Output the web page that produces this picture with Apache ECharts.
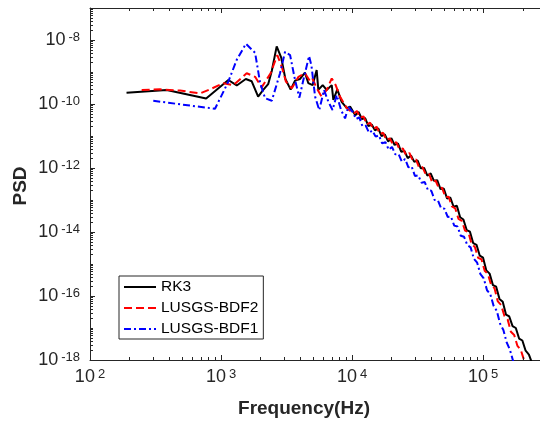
<!DOCTYPE html>
<html><head><meta charset="utf-8">
<script src="https://cdn.jsdelivr.net/npm/echarts@6/dist/echarts.min.js"></script>
<style>html,body{margin:0;padding:0;background:#fff}#c{width:540px;height:428px}</style>
</head><body><div id="c"></div>
<script>
const seriesNames = ['RK3', 'LUSGS-BDF2', 'LUSGS-BDF1'];
const xTickValues = [1e2, 1e3, 1e4, 1e5];
const yTickValues = [1e-18, 1e-16, 1e-14, 1e-12, 1e-10, 1e-8];

const rk3Freq = [190,385,770,1137,1318,1545,1715,1920,2100,2290,2440,2660,2880,3100,3400,3670,4000,4370,4640,5000,5370,5530,5970,6400,7000,7200,7720,8330,9120,9660,
  10000,10590,11220,11890,12590,13340,14130,14960,15850,16790,17780,18840,19950,21130,22390,23710,25120,26610,28180,29850,31620,33500,35480,37580,39810,42170,44670,47320,50120,53090,56230,59570,63100,66830,70790,74990,79430,84140,89130,94410,100000,105900,112200,118900,125900,133400,141300,149600,158500,167900,177800,188400,199500,211300,223900,237100];
const rk3Psd = [2.24e-10,2.75e-10,1.48e-10,5.62e-10,3.80e-10,6.03e-10,5.13e-10,1.70e-10,2.75e-10,4.17e-10,1.07e-9,6.31e-9,2.82e-9,6.03e-10,2.82e-10,5.37e-10,6.03e-10,9.55e-10,4.47e-10,3.89e-10,1.15e-9,2.75e-10,3.89e-10,2.75e-10,3.89e-10,1.35e-10,2.88e-10,1.17e-10,7.41e-11,8.32e-11,
  7.24e-11,4.47e-11,5.62e-11,3.39e-11,3.63e-11,2.04e-11,2.29e-11,1.51e-11,1.74e-11,1.00e-11,1.12e-11,6.76e-12,8.51e-12,5.25e-12,5.89e-12,3.24e-12,3.39e-12,2.04e-12,2.45e-12,1.55e-12,1.74e-12,9.77e-13,1.00e-12,5.75e-13,6.76e-13,3.98e-13,4.17e-13,2.19e-13,2.29e-13,1.12e-13,1.20e-13,6.17e-14,6.61e-14,2.88e-14,2.45e-14,1.15e-14,1.02e-14,4.47e-15,3.98e-15,1.82e-15,1.58e-15,6.31e-16,5.01e-16,2.19e-16,1.95e-16,8.13e-17,6.61e-17,2.63e-17,2.29e-17,1.15e-17,1.00e-17,4.68e-18,4.07e-18,1.95e-18,1.48e-18,7.76e-19];

const bdf2Freq = [248,342,486,692,824,1043,1242,1570,1820,2042,2390,2690,2905,3130,3470,3900,4375,4800,5000,5375,5860,6410,7000,7500,8090,9120,
  10290,10900,11550,12240,12960,13730,14540,15400,16320,17280,18310,19400,20550,21760,23050,24430,25880,27410,29030,30750,32570,34480,36520,38690,40980,43410,45970,48700,51580,54640,57880,61300,64940,68790,72860,77180,81750,86600,91730,97160,102900,109000,115500,122300,129600,137300,145400,154000,163100,172800,183100,193900,205400,217600];
const bdf2Psd = [2.75e-10,2.88e-10,2.63e-10,2.14e-10,2.88e-10,4.47e-10,3.89e-10,9.12e-10,7.08e-10,3.31e-10,9.12e-10,3.39e-9,1.48e-9,5.01e-10,3.09e-10,7.08e-10,9.12e-10,5.01e-10,6.03e-10,3.09e-10,1.70e-10,2.75e-10,6.31e-10,3.89e-10,1.70e-10,7.41e-11,
  5.01e-11,6.03e-11,3.72e-11,4.07e-11,2.29e-11,2.63e-11,1.62e-11,1.95e-11,1.15e-11,1.26e-11,7.41e-12,8.51e-12,5.37e-12,6.46e-12,3.80e-12,4.07e-12,2.51e-12,2.95e-12,1.74e-12,1.86e-12,1.00e-12,1.07e-12,6.31e-13,6.61e-13,3.47e-13,4.07e-13,2.34e-13,2.40e-13,1.23e-13,1.26e-13,6.31e-14,5.50e-14,2.57e-14,2.24e-14,1.10e-14,1.00e-14,4.17e-15,3.39e-15,1.55e-15,1.41e-15,6.17e-16,4.79e-16,2.14e-16,1.74e-16,6.76e-17,5.25e-17,2.40e-17,1.86e-17,7.59e-18,6.03e-18,2.75e-18,2.09e-18,1.00e-18,6.92e-19];

const bdf1Freq = [304,900,1137,1318,1550,1820,1990,2170,2440,2820,3080,3365,3672,3963,4250,4700,4900,5225,5620,6110,6600,7100,7640,8250,8850,9380,
  10120,10720,11350,12020,12740,13490,14290,15140,16030,16980,17990,19050,20180,21380,22650,23990,25410,26920,28510,30200,31990,33880,35890,38020,40270,42660,45190,47860,50700,53700,56890,60260,63830,67610,71620,75860,80350,85110,90160,95500,101200,107200,113500,120200,127400,134900,142900,151400,160300,169800,179900];
const bdf1Psd = [1.26e-10,7.08e-11,5.01e-10,2.40e-9,7.59e-9,3.98e-9,4.47e-10,1.51e-10,1.26e-10,9.12e-10,4.27e-9,3.39e-9,5.62e-10,1.58e-10,5.62e-10,3.16e-9,1.58e-9,1.70e-10,6.46e-11,2.75e-10,1.17e-10,6.46e-11,1.91e-10,6.46e-11,3.55e-11,8.32e-11,
  5.62e-11,3.39e-11,3.80e-11,2.00e-11,2.09e-11,1.26e-11,1.48e-11,9.55e-12,1.05e-11,5.89e-12,6.46e-12,3.72e-12,4.57e-12,2.69e-12,2.75e-12,1.58e-12,1.91e-12,1.05e-12,1.12e-12,5.62e-13,5.89e-13,3.47e-13,3.63e-13,2.00e-13,1.95e-13,1.00e-13,9.77e-14,5.50e-14,5.37e-14,2.95e-14,3.02e-14,1.58e-14,1.48e-14,7.59e-15,7.08e-15,3.89e-15,3.31e-15,1.45e-15,1.10e-15,4.79e-16,3.55e-16,1.51e-16,1.15e-16,5.01e-17,3.39e-17,1.35e-17,8.71e-18,3.55e-18,2.09e-18,9.12e-19,5.01e-19];

const X_MIN = 1e2, X_MAX = 2.72e5, Y_MIN = 1e-18, Y_MAX = 1e-7;
const AX = '#262626';
const FONT = "'Liberation Sans', Arial, Helvetica, sans-serif";

function pairs(xs, ys) { return xs.map((x, i) => [x, ys[i]]); }
function expLabel(v) { return '{b|10}{e|' + Math.round(Math.log10(v)) + '}'; }

// axis tick decoration: kind 0 bottom, 1 top, 2 left; last = tick length
const tickData = [];
for (let n = 2; n <= 5; n++) {
  tickData.push([Math.pow(10, n), Y_MIN, 0, 5]);
  tickData.push([Math.pow(10, n), Y_MAX, 1, 5]);
  for (let k = 2; k <= 9; k++) {
    const v = k * Math.pow(10, n);
    if (v > X_MAX) break;
    tickData.push([v, Y_MIN, 0, 3]);
    tickData.push([v, Y_MAX, 1, 3]);
  }
}
for (let n = -18; n <= -8; n++) {
  tickData.push([X_MIN, Math.pow(10, n), 2, n % 2 === 0 ? 5 : 3]);
  for (let k = 2; k <= 9; k++) tickData.push([X_MIN, k * Math.pow(10, n), 2, 3]);
}

const richLabel = {
  b: { fontSize: 18, fontFamily: FONT, color: AX, verticalAlign: 'bottom', lineHeight: 18 },
  e: { fontSize: 13, fontFamily: FONT, color: AX, verticalAlign: 'top', lineHeight: 13, padding: [0, 0, 8, 3] }
};

const chart = echarts.init(document.getElementById('c'), null, { renderer: 'canvas' });
chart.setOption({
  animation: false,
  backgroundColor: '#fff',
  grid: { left: 90, top: 8, right: 0, bottom: 68, containLabel: false },
  legend: {
    data: seriesNames, orient: 'vertical', left: 119, top: 276,
    padding: [3, 5, 2, 4], itemWidth: 32, itemHeight: 16, itemGap: 5,
    borderColor: AX, borderWidth: 1, backgroundColor: '#fff', borderRadius: 0,
    textStyle: { fontFamily: FONT, fontSize: 15.5, color: '#000', lineHeight: 16 },
    itemStyle: { opacity: 0 },
    selectedMode: false
  },
  xAxis: [{
    type: 'log', min: X_MIN, max: X_MAX, logBase: 10, position: 'bottom',
    axisLine: { lineStyle: { color: AX, width: 1 } },
    axisTick: { show: false },
    splitLine: { show: false },
    axisLabel: { margin: 8, customValues: xTickValues, formatter: expLabel, rich: richLabel }
  }, {
    type: 'log', min: X_MIN, max: X_MAX, logBase: 10, position: 'top',
    axisLine: { lineStyle: { color: AX, width: 1 } },
    axisTick: { show: false },
    splitLine: { show: false }, axisLabel: { show: false }
  }],
  yAxis: [{
    type: 'log', min: Y_MIN, max: Y_MAX, logBase: 10,
    axisLine: { show: true, lineStyle: { color: AX, width: 1 } },
    axisTick: { show: false },
    splitLine: { show: false },
    axisLabel: { margin: 10, customValues: yTickValues, formatter: expLabel, rich: richLabel }
  }],
  graphic: [
    { type: 'text', x: 304, y: 409, style: { text: 'Frequency(Hz)', font: 'bold 19px ' + FONT, fill: AX, textAlign: 'center', textVerticalAlign: 'middle' } },
    { type: 'text', x: 21, y: 186, rotation: Math.PI / 2, style: { text: 'PSD', font: 'bold 19px ' + FONT, fill: AX, textAlign: 'center', textVerticalAlign: 'middle' } }
  ],
  series: [
    {
      name: 'axisTicks', type: 'custom', silent: true, clip: false, z: 5,
      data: tickData,
      renderItem: (params, api) => {
        const kind = api.value(2), len = api.value(3);
        const p = api.coord([api.value(0), api.value(1)]);
        let shape;
        if (kind === 2) { const y = Math.round(p[1]) + 0.5; shape = { x1: p[0], y1: y, x2: p[0] + len, y2: y }; }
        else if (kind === 0) { const x = Math.round(p[0]) + 0.5; shape = { x1: x, y1: p[1], x2: x, y2: p[1] - len }; }
        else { const x = Math.round(p[0]) + 0.5; shape = { x1: x, y1: p[1], x2: x, y2: p[1] + len }; }
        return { type: 'line', shape: shape, style: { stroke: AX, lineWidth: 1 } };
      }
    },
    {
      name: 'RK3', type: 'line', data: pairs(rk3Freq, rk3Psd), symbol: 'none', showSymbol: false,
      lineStyle: { color: '#000000', width: 2, type: 'solid' }, itemStyle: { color: '#000000' }, z: 2
    },
    {
      name: 'LUSGS-BDF2', type: 'line', data: pairs(bdf2Freq, bdf2Psd), symbol: 'none', showSymbol: false,
      lineStyle: { color: '#ff0000', width: 2, type: [8, 4] }, itemStyle: { color: '#ff0000' }, z: 3
    },
    {
      name: 'LUSGS-BDF1', type: 'line', data: pairs(bdf1Freq, bdf1Psd), symbol: 'none', showSymbol: false,
      lineStyle: { color: '#0000ff', width: 2, type: [7, 3, 2, 3] }, itemStyle: { color: '#0000ff' }, z: 4
    }
  ]
});
</script></body></html>
